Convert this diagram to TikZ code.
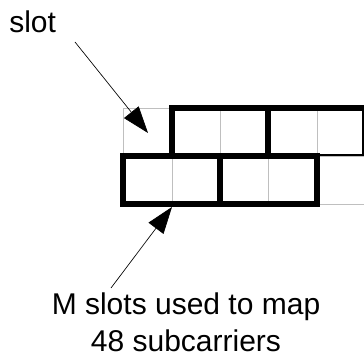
\documentclass[tikz,border=0pt]{standalone}
\usepackage{fontspec}
\setmainfont{Liberation Sans}
\usetikzlibrary{arrows.meta}

\begin{document}
\begin{tikzpicture}[x=0.75pt,y=-0.75pt]
        \tikzset{gridline/.style={draw=black!25,line width=0.6pt},
            slotblock/.style={draw,line width=4.2pt,line join=miter},
            label/.style={font=\fontsize{22.5}{27.75}\selectfont,inner sep=0pt},
            pointer/.style={draw,line width=0.5pt,-{Triangle[length=20pt,width=14pt]}}}
        \useasboundingbox (0,0) rectangle (364,356);
        % grid of slots
        \foreach \x in {123,172,220,268,317,365}
            \draw[gridline] (\x,108) -- (\x,204);
        \foreach \y in {108,156,204}
            \draw[gridline] (123,\y) -- (365,\y);
        % blocks of two slots
        \draw[slotblock] (172,108) rectangle (268,156);
        \draw[slotblock] (268,156) -- (268,108) -- (366,108);
        \draw[line width=0.8pt] (363,108) -- (363,155) -- (317,155);
        \draw[slotblock] (123,156) rectangle (220,204);
        \draw[slotblock] (220,156) rectangle (317,204);
        % labels
        \node[label,anchor=base west] (slotlbl) at (9,33) {slot};
        \node[label,anchor=north,align=center] (maplbl) at (186,292) {M slots used to map\\48 subcarriers};
        \coordinate (slottip) at (148,133);
        \coordinate (slotfrom) at (75,42);
        \coordinate (maptip) at (172,207);
        \coordinate (mapfrom) at (111,288);
        \draw[pointer] (slotfrom) -- (slottip);
        \draw[pointer] (mapfrom) -- (maptip);
    \end{tikzpicture}
\end{document}
